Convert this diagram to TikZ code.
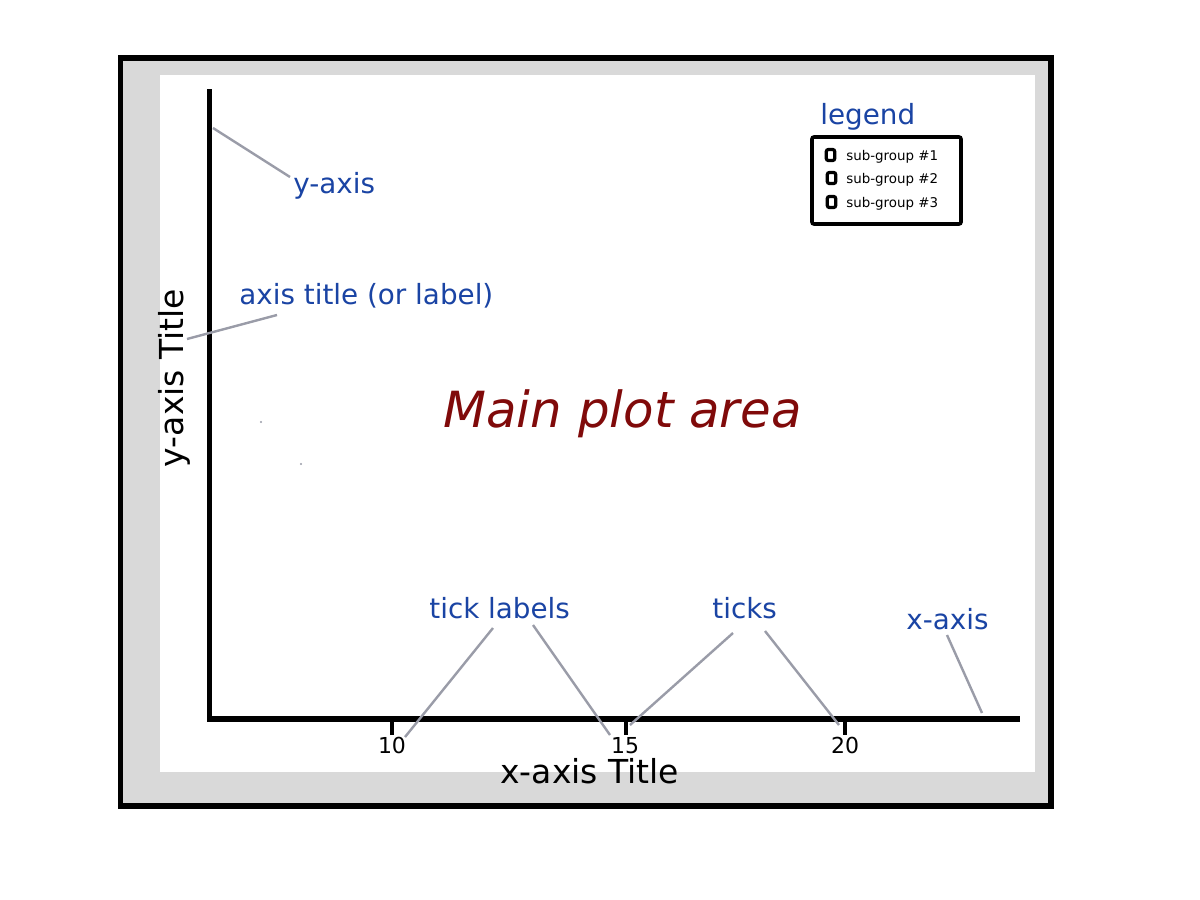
\documentclass[tikz,border=0pt]{standalone}
\usepackage{fontspec}
\setmainfont{DejaVu Sans}
\definecolor{lblblue}{HTML}{1A44A4}
\definecolor{mainred}{HTML}{800A0A}
\definecolor{leadgray}{HTML}{9A9CA8}
\definecolor{margingray}{HTML}{D9D9D9}
\tikzset{
  lbl/.style={inner sep=0pt, anchor=base west, text=lblblue, font=\fontsize{13.9pt}{16pt}\selectfont},
  leader/.style={draw=leadgray, line width=1.2pt},
  axisline/.style={draw=black, line width=2.8pt},
  tickmark/.style={draw=black, line width=2pt},
  ticklbl/.style={inner sep=0pt, anchor=base, font=\fontsize{11pt}{12pt}\selectfont},
  axtitle/.style={inner sep=0pt, font=\fontsize{16.5pt}{18pt}\selectfont},
  legsym/.style={draw=black, line width=1.6pt, fill=white, rounded corners=1pt, minimum width=4.2pt, minimum height=5.5pt, inner sep=0pt},
  legtxt/.style={inner sep=0pt, anchor=base west, font=\fontsize{6.7pt}{8pt}\selectfont},
}
\begin{document}
\begin{tikzpicture}[x=0.5pt,y=-0.5pt]
\useasboundingbox (0,0) rectangle (1200,900);
% frame and panels
\draw[line width=2.7pt, fill=margingray] (120.5,58) rectangle (1051,806);
\fill[white] (160,75) rectangle (1035,772);
% axes
\coordinate (ytop) at (209.5,89);
\coordinate (origin) at (209.5,719);
\coordinate (xend) at (1020,719);
\draw[axisline] (ytop) -- (origin) -- (xend);
% ticks
\coordinate (t10) at (392,719);
\coordinate (t15) at (626,719);
\coordinate (t20) at (845,719);
\coordinate (t10b) at (392,735);
\coordinate (t15b) at (626,735);
\coordinate (t20b) at (845,735);
\draw[tickmark] (t10) -- (t10b);
\draw[tickmark] (t15) -- (t15b);
\draw[tickmark] (t20) -- (t20b);
\node[ticklbl] (n10) at (392,753) {10};
\node[ticklbl] (n15) at (625,753) {15};
\node[ticklbl] (n20) at (845,753) {20};
% axis titles
\node[axtitle, anchor=base west] (xtitle) at (500,783) {x-axis Title};
\node[axtitle, anchor=base, rotate=90] (ytitle) at (183,378) {y-axis Title};
% main text
\node[inner sep=0pt, anchor=base west, text=mainred, font=\fontsize{24.9pt}{28pt}\selectfont\itshape] (main) at (443,427) {Main plot area};
% labels
\node[lbl] (lyaxis) at (293,193) {y-axis};
\node[lbl] (laxtitle) at (239,304) {axis title (or label)};
\node[lbl] (llegend) at (820,124) {legend};
\node[lbl] (lticklabels) at (429,618) {tick labels};
\node[lbl] (lticks) at (712,618) {ticks};
\node[lbl] (lxaxis) at (906,629) {x-axis};
% leader lines
\coordinate (a1) at (290,177); \coordinate (a2) at (213,128);
\coordinate (b1) at (277,315); \coordinate (b2) at (187,339);
\coordinate (c1) at (493,628); \coordinate (c2) at (405,737);
\coordinate (d1) at (533,625); \coordinate (d2) at (610,735);
\coordinate (e1) at (733,633); \coordinate (e2) at (630,725);
\coordinate (f1) at (765,631); \coordinate (f2) at (839,725);
\coordinate (g1) at (947,635); \coordinate (g2) at (982,713);
\draw[leader] (a1) -- (a2);
\draw[leader] (b1) -- (b2);
\draw[leader] (c1) -- (c2);
\draw[leader] (d1) -- (d2);
\draw[leader] (e1) -- (e2);
\draw[leader] (f1) -- (f2);
\draw[leader] (g1) -- (g2);
% legend box
\draw[line width=1.8pt, fill=white, rounded corners=1pt] (812,137) rectangle (961,224);
\node[legsym] (s1) at (830.5,155) {};
\node[legsym] (s2) at (831.5,178) {};
\node[legsym] (s3) at (831.5,202) {};
\node[legtxt] (e1t) at (846,160) {sub-group \#1};
\node[legtxt] (e2t) at (846,183) {sub-group \#2};
\node[legtxt] (e3t) at (846,207) {sub-group \#3};
% stray dots
\fill[leadgray] (261,422) circle (1.2);
\fill[leadgray] (301,464) circle (1.2);
\end{tikzpicture}
\end{document}
